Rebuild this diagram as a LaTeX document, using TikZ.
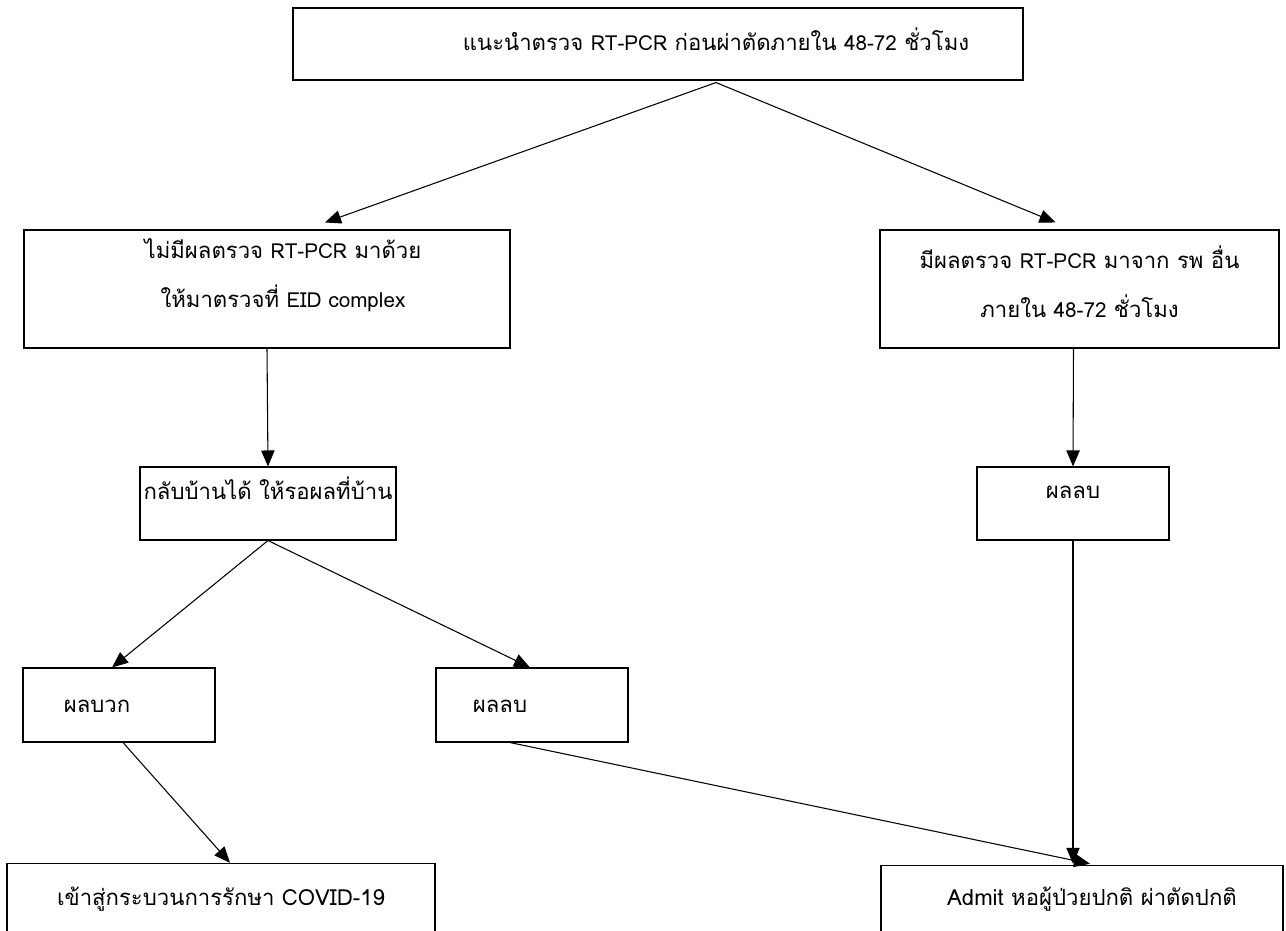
\documentclass[tikz,border=0pt]{standalone}
\usepackage{fontspec}
\newfontfamily\thai[Script=Thai]{Loma}
\usepackage{tikz}
\usetikzlibrary{arrows.meta,calc}

\newcommand{\sm}[1]{{\fontsize{15.5pt}{18pt}\selectfont #1}}

\begin{document}
\begin{tikzpicture}[
  x=0.75pt, y=-0.75pt,
  box/.style={rectangle, draw, line width=0.8pt, inner sep=0pt},
  txt/.style={anchor=north, align=center, inner sep=0pt, font=\thai\fontsize{16.6pt}{37pt}\selectfont},
  arrow/.style={-{Triangle[length=12pt,width=10pt]}, line width=0.8pt}
]
\useasboundingbox (0,0) rectangle (1286,931);

% boxes
\node[box, minimum width=547.5pt, minimum height=54pt] (adv) at (658,44) {};
\node[box, minimum width=364.5pt, minimum height=88.5pt] (nores) at (267,289) {};
\node[box, minimum width=299.25pt, minimum height=88.5pt] (hasres) at (1079.5,289) {};
\node[box, minimum width=192pt, minimum height=54.75pt] (home) at (268,503.5) {};
\node[box, minimum width=144pt, minimum height=54.75pt] (negb) at (1073,503.5) {};
\node[box, minimum width=144pt, minimum height=55.5pt] (pos) at (119,705) {};
\node[box, minimum width=144pt, minimum height=55.5pt] (nega) at (532,705) {};
\node[box, minimum width=321pt, minimum height=58pt] (covid) at (221,902) {};
\node[box, minimum width=301.5pt, minimum height=58pt] (admit) at (1082,904) {};

% texts
\node[txt] (advT) at ($(adv.north)+(58,20)$) {แนะนำตรวจ \sm{RT-PCR} ก่อนผ่าตัดภายใน \sm{48-72} ชั่วโมง};
\node[txt] (noresT) at ($(nores.north)+(16,9)$) {ไม่มีผลตรวจ \sm{RT-PCR} มาด้วย\\ให้มาตรวจที่ \sm{EID complex}};
\node[txt] (hasresT) at ($(hasres.north)+(0,16)$) {มีผลตรวจ \sm{RT-PCR} มาจาก รพ อื่น\\ภายใน \sm{48-72} ชั่วโมง};
\node[txt] (homeT) at ($(home.north)+(0,10)$) {กลับบ้านได้ ให้รอผลที่บ้าน};
\node[txt] (negbT) at ($(negb.north)+(0,19)$) {ผลลบ};
\node[txt] (posT) at ($(pos.north)+(-22,32)$) {ผลบวก};
\node[txt] (negaT) at ($(nega.north)+(-32,32)$) {ผลลบ};
\node[txt] (covidT) at ($(covid.north)+(0,24)$) {เข้าสู่กระบวนการรักษา COVID-19};
\node[txt] (admitT) at ($(admit.north)+(10,22)$) {Admit หอผู้ป่วยปกติ ผ่าตัดปกติ};

% connectors
\draw[arrow] ($(adv.south)+(58,2)$) -- ($(nores.north)+(58,-7)$);
\draw[arrow] ($(adv.south)+(58,2)$) -- ($(hasres.north)+(-24,-7)$);
\draw[arrow] (nores.south) -- (home.north);
\draw[arrow] ($(hasres.south)+(-6,0)$) -- (negb.north);
\draw[arrow] (home.south) -- ($(pos.north)+(-7,0)$);
\draw[arrow] (home.south) -- ($(nega.north)+(-2,0)$);
\draw[arrow] ($(pos.south)+(4,0)$) -- ($(covid.north)+(9,0)$);
\draw[arrow] ($(nega.south)+(-22,0)$) -- ($(admit.north)+(8,-1)$);
\draw[arrow] (negb.south) -- ($(admit.north)+(-9,-1)$);
\end{tikzpicture}
\end{document}
